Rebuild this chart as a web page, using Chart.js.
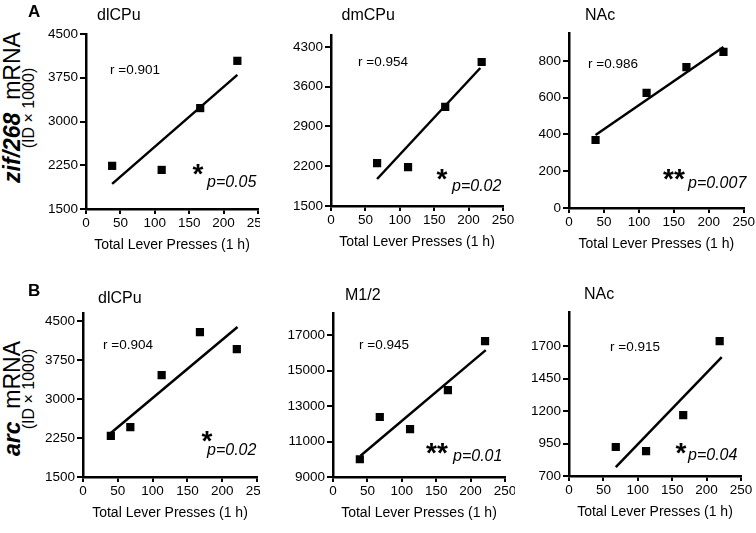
<!DOCTYPE html>
<html><head><meta charset="utf-8">
<script src="https://cdn.jsdelivr.net/npm/chart.js@4.4.1/dist/chart.umd.min.js"></script>
<style>
html,body{margin:0;padding:0;background:#fff;}
body{width:756px;height:533px;position:relative;overflow:hidden;}
canvas{position:absolute;background:#fff;}
.lbl{position:absolute;white-space:nowrap;color:#000;z-index:5;line-height:1.15;}
</style></head><body>
<script>
// ---------- DATA ----------
const panelTitles = ['dlCPu', 'dmCPu', 'NAc', 'dlCPu', 'M1/2', 'NAc'];
const xTickValues = [0, 50, 100, 150, 200, 250];
const xAxisTitle = 'Total Lever Presses (1 h)';

// lever presses (x) and mRNA signal (y) per panel
const pressesA1 = [38, 110, 166, 220];        const zifDlcpu = [2240, 2170, 3230, 4040];
const pressesA2 = [67, 112, 166, 219];        const zifDmcpu = [2255, 2185, 3245, 4035];
const pressesA3 = [38, 111, 168, 221];        const zifNac   = [370, 626, 767, 850];
const pressesB1 = [40, 68, 113, 168, 221];    const arcDlcpu = [2290, 2460, 3460, 4285, 3960];
const pressesB2 = [39, 68, 112, 167, 221];    const arcM12   = [10000, 12380, 11700, 13900, 16660];
const pressesB3 = [68, 112, 166, 219];        const arcNac   = [923, 892, 1169, 1738];

// regression line end points
const fitXA1 = [38, 220];  const fitYA1 = [1930, 3800];
const fitXA2 = [67, 217];  const fitYA2 = [1975, 3930];
const fitXA3 = [38, 221];  const fitYA3 = [397, 876];
const fitXB1 = [40, 222];  const fitYB1 = [2346, 4385];
const fitXB2 = [40, 222];  const fitYB2 = [10200, 16150];
const fitXB3 = [68, 222];  const fitYB3 = [769, 1615];

// y axis tick labels and ranges
const yTicksA1 = [1500, 2250, 3000, 3750, 4500];
const yTicksA2 = [1500, 2200, 2900, 3600, 4300];
const yTicksA3 = [0, 200, 400, 600, 800];
const yTicksB1 = [1500, 2250, 3000, 3750, 4500];
const yTicksB2 = [9000, 11000, 13000, 15000, 17000];
const yTicksB3 = [700, 950, 1200, 1450, 1700];
const yMins = [1500, 1500, 0, 1500, 9000, 700];
const yMaxs = [4500, 4500, 950, 4650, 18200, 1960];

// statistics
const rValues = ['0.901', '0.954', '0.986', '0.904', '0.945', '0.915'];
const pValues = ['0.05', '0.02', '0.007', '0.02', '0.01', '0.04'];
const starMarks = ['*', '*', '**', '*', '**', '*'];

// ---------- LAYOUT / STYLE ----------
const FONT = '"Liberation Sans", Arial, sans-serif';
const XH = 45;       // height of x-axis box
const PADT = 12;     // top padding
const layout = [
  {L: 86,  T: 34,    R: 258, B: 209, cl: 40,  cr: 274, tx: 119, ty: 15,
   r: [24, 36],  st: [112, 133],   p: [121, 149]},
  {L: 331, T: 35.6,  R: 503, B: 206, cl: 260, cr: 519, tx: 368, ty: 15,
   r: [27, 26.4], st: [111, 136.4], p: [121, 151.4]},
  {L: 569, T: 33.4,  R: 744, B: 208, cl: 515, cr: 756, tx: 600, ty: 15,
   r: [19, 30.6], st: [105, 138.6], p: [119, 150.6]},
  {L: 83,  T: 313.2, R: 257, B: 477, cl: 40,  cr: 273, tx: 120, ty: 298,
   r: [20, 31.8], st: [124, 120.8], p: [124, 137.8]},
  {L: 333, T: 313.7, R: 505, B: 477, cl: 260, cr: 521, tx: 363, ty: 295,
   r: [26, 31.3], st: [104, 132.3], p: [120, 143]},
  {L: 569, T: 312.2, R: 741, B: 476, cl: 515, cr: 756, tx: 599, ty: 294,
   r: [41, 34.8], st: [112, 133.8], p: [119, 143.8]}
];

const xsList = [pressesA1, pressesA2, pressesA3, pressesB1, pressesB2, pressesB3];
const ysList = [zifDlcpu, zifDmcpu, zifNac, arcDlcpu, arcM12, arcNac];
const fxList = [fitXA1, fitXA2, fitXA3, fitXB1, fitXB2, fitXB3];
const fyList = [fitYA1, fitYA2, fitYA3, fitYB1, fitYB2, fitYB3];
const ytList = [yTicksA1, yTicksA2, yTicksA3, yTicksB1, yTicksB2, yTicksB3];

Chart.defaults.font.family = FONT;
Chart.defaults.color = '#000';

const annotPlugin = {
  id: 'annot',
  afterDatasetsDraw(chart, args, o) {
    const {ctx, chartArea} = chart;
    const l = chartArea.left, t = chartArea.top;
    ctx.save();
    ctx.fillStyle = '#000';
    ctx.textAlign = 'left';
    ctx.textBaseline = 'middle';
    ctx.font = '13.5px ' + FONT;
    ctx.fillText('r =' + o.rText, l + o.r[0], t + o.r[1]);
    ctx.font = 'italic 16px ' + FONT;
    ctx.fillText('p=' + o.pText, l + o.p[0], t + o.p[1]);
    ctx.font = 'bold 28px ' + FONT;
    ctx.textAlign = 'center';
    ctx.textBaseline = 'alphabetic';
    ctx.fillText(o.star, l + o.st[0], t + o.st[1] + 0.58 * 28);
    ctx.restore();
  }
};

function addLabel(html, cx, cy, font, rotate) {
  const d = document.createElement('div');
  d.className = 'lbl';
  d.innerHTML = html;
  d.style.font = font;
  document.body.appendChild(d);
  const w = d.offsetWidth, h = d.offsetHeight;
  d.style.left = (cx - w / 2) + 'px';
  d.style.top = (cy - h / 2) + 'px';
  if (rotate) d.style.transform = 'rotate(-90deg)';
  return d;
}

layout.forEach((g, i) => {
  const cv = document.createElement('canvas');
  const top = Math.round(g.T - PADT);
  const padTop = g.T - top;
  const w = g.cr - g.cl;
  const h = g.B - top + XH;
  cv.width = w; cv.height = h;
  cv.style.left = g.cl + 'px'; cv.style.top = top + 'px';
  cv.style.width = w + 'px'; cv.style.height = h + 'px';
  document.body.appendChild(cv);
  const yW = g.L - g.cl;
  const yt = ytList[i];
  new Chart(cv, {
    type: 'scatter',
    data: {
      datasets: [
        {type: 'line', data: fxList[i].map((x, j) => ({x, y: fyList[i][j]})),
         borderColor: '#000', borderWidth: 2.5, pointRadius: 0, fill: false, order: 1},
        {data: xsList[i].map((x, j) => ({x, y: ysList[i][j]})),
         pointStyle: 'rect', pointRadius: 5.8, backgroundColor: '#000',
         borderColor: '#000', borderWidth: 0, order: 0}
      ]
    },
    options: {
      responsive: false, animation: false, events: [],
      layout: {padding: {top: padTop, right: g.cr - g.R, left: 0, bottom: 0}},
      plugins: {
        legend: {display: false}, tooltip: {enabled: false},
        annot: {rText: rValues[i], pText: pValues[i], star: starMarks[i], r: g.r, st: g.st, p: g.p}
      },
      scales: {
        x: {
          type: 'linear', min: 0, max: 250,
          afterBuildTicks: s => { s.ticks = xTickValues.map(v => ({value: v})); },
          afterFit: s => { s.height = XH; },
          grid: {display: true, drawOnChartArea: false, drawTicks: true, tickLength: 5, color: '#000', lineWidth: 2},
          border: {display: true, color: '#000', width: 2.5},
          ticks: {color: '#000', font: {size: 13.5}, padding: 1, maxRotation: 0, autoSkip: false,
                  callback: v => String(v)},
          title: {display: true, text: xAxisTitle, color: '#000', font: {size: 14}, padding: {top: 0, bottom: 0}}
        },
        y: {
          type: 'linear', min: yMins[i], max: yMaxs[i],
          afterBuildTicks: s => { s.ticks = yt.map(v => ({value: v})); },
          afterFit: s => { s.width = yW; },
          grid: {display: true, drawOnChartArea: false, drawTicks: true, tickLength: 6, color: '#000', lineWidth: 2},
          border: {display: true, color: '#000', width: 2.5},
          ticks: {color: '#000', font: {size: 13.5}, padding: 2, autoSkip: false,
                  callback: v => String(v)}
        }
      }
    },
    plugins: [annotPlugin]
  });
  addLabel(panelTitles[i], g.tx, g.ty, '16px ' + FONT, false);
});

// panel letters and y-axis titles
addLabel('A', 34, 12, 'bold 17px ' + FONT, false);
addLabel('B', 34, 291, 'bold 17px ' + FONT, false);
addLabel('<b><i>zif/268</i></b>&nbsp;&nbsp;mRNA', 12, 107, '23px ' + FONT, true);
addLabel('(ID × 1000)', 29, 108, '16px ' + FONT, true);
addLabel('<b><i>arc</i></b>&nbsp;&nbsp;mRNA', 12, 398, '23px ' + FONT, true);
addLabel('(ID × 1000)', 29, 389, '16px ' + FONT, true);
</script>
</body></html>
